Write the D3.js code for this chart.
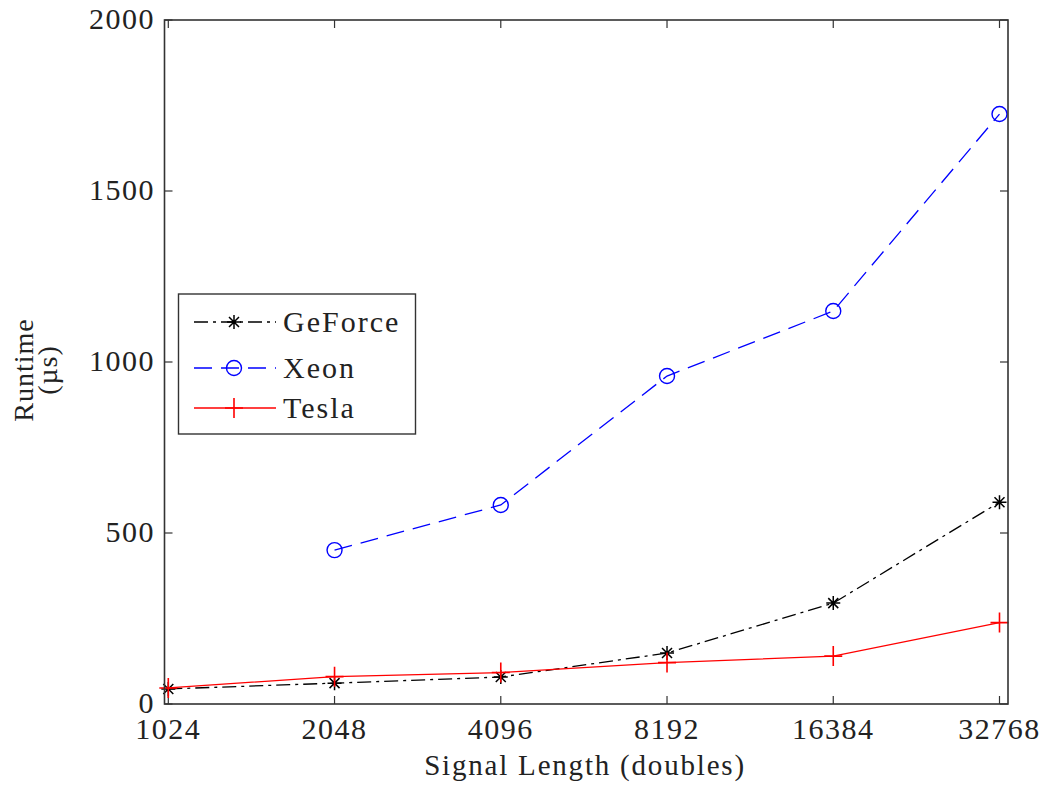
<!DOCTYPE html>
<html>
<head>
<meta charset="utf-8">
<script src="https://cdn.jsdelivr.net/npm/d3@7"></script>
<style>
  body { margin: 0; background: #fff; }
  text { font-family: "Liberation Serif", "Times New Roman", serif; fill: #222; }
</style>
</head>
<body>
<div id="chart"></div>
<script>
// data
const sizes = [1024, 2048, 4096, 8192, 16384, 32768];
const geforce = [44, 61, 79, 149, 295, 590];
const xeonSizes = [2048, 4096, 8192, 16384, 32768];
const xeon = [450, 582, 959, 1149, 1725];
const tesla = [47, 80, 92, 121, 140, 238];
const yTicks = [0, 500, 1000, 1500, 2000];

const W = 1047, H = 788;
const FRAME = { LEFT: 164.5, RIGHT: 1008, TOP: 20, BOTTOM: 704 };

const svg = d3.select("#chart").append("svg")
  .attr("width", W).attr("height", H);

const x = d3.scaleLog().base(2).domain([1024, 32768]).range([168.3, 999.5]);
const y = d3.scaleLinear().domain([0, 2000]).range([FRAME.BOTTOM, FRAME.TOP]);

const series = [
  { name: "GeForce", xs: sizes, ys: geforce, color: "#000", dash: "14,5,3,5", marker: "star" },
  { name: "Xeon", xs: xeonSizes, ys: xeon, color: "#0000ff", dash: "18,9", marker: "circle" },
  { name: "Tesla", xs: sizes, ys: tesla, color: "#ff0000", dash: null, marker: "plus" }
];

function drawMarker(g, type, cx, cy, color) {
  if (type == "circle") {
    g.append("circle").attr("cx", cx).attr("cy", cy).attr("r", 7.5)
      .attr("fill", "none").attr("stroke", color).attr("stroke-width", 1.4);
  } else if (type == "plus") {
    g.append("path")
      .attr("d", `M${cx - 9},${cy}H${cx + 9}M${cx},${cy - 10}V${cy + 10}`)
      .attr("stroke", color).attr("stroke-width", 1.6);
  } else {
    const r = 7, d = 5;
    g.append("path")
      .attr("d", `M${cx - r},${cy}H${cx + r}M${cx},${cy - r}V${cy + r}M${cx - d},${cy - d}L${cx + d},${cy + d}M${cx - d},${cy + d}L${cx + d},${cy - d}`)
      .attr("stroke", color).attr("stroke-width", 1.5);
  }
}

// ticks (inward, mirrored like matlab)
const tk = svg.append("g").attr("stroke", "#333").attr("stroke-width", 1.2);
sizes.forEach((s) => {
  tk.append("line").attr("x1", x(s)).attr("x2", x(s)).attr("y1", FRAME.BOTTOM).attr("y2", FRAME.BOTTOM - 8);
  tk.append("line").attr("x1", x(s)).attr("x2", x(s)).attr("y1", FRAME.TOP).attr("y2", FRAME.TOP + 8);
});
yTicks.forEach((v) => {
  tk.append("line").attr("y1", y(v)).attr("y2", y(v)).attr("x1", FRAME.LEFT).attr("x2", FRAME.LEFT + 8);
  tk.append("line").attr("y1", y(v)).attr("y2", y(v)).attr("x1", FRAME.RIGHT).attr("x2", FRAME.RIGHT - 8);
});

// lines
const line = d3.line().x((d) => x(d[0])).y((d) => y(d[1]));
series.forEach((s) => {
  const pts = s.xs.map((v, i) => [v, s.ys[i]]);
  svg.append("path").datum(pts).attr("d", line)
    .attr("fill", "none").attr("stroke", s.color).attr("stroke-width", 1.3)
    .attr("stroke-dasharray", s.dash);
  const mg = svg.append("g");
  pts.forEach((p) => drawMarker(mg, s.marker, x(p[0]), y(p[1]), s.color));
});

// frame
svg.append("rect")
  .attr("x", FRAME.LEFT).attr("y", FRAME.TOP)
  .attr("width", FRAME.RIGHT - FRAME.LEFT).attr("height", FRAME.BOTTOM - FRAME.TOP)
  .attr("fill", "none").attr("stroke", "#333").attr("stroke-width", 1.6);

// tick labels
svg.append("g").selectAll("text").data(sizes).join("text")
  .attr("x", (d) => x(d)).attr("y", 739)
  .attr("text-anchor", "middle").attr("font-size", 30).attr("letter-spacing", 1.5)
  .text((d) => d);
svg.append("g").selectAll("text").data(yTicks).join("text")
  .attr("x", 155).attr("y", (d) => y(d) + 9)
  .attr("text-anchor", "end").attr("font-size", 30).attr("letter-spacing", 1.5)
  .text((d) => d);

// axis labels
svg.append("text").attr("x", 585).attr("y", 775)
  .attr("text-anchor", "middle").attr("font-size", 29).attr("letter-spacing", 1.8)
  .text("Signal Length (doubles)");
svg.append("text").attr("transform", "translate(33,370) rotate(-90)")
  .attr("text-anchor", "middle").attr("font-size", 28).attr("letter-spacing", 1)
  .text("Runtime");
svg.append("text").attr("transform", "translate(57,370) rotate(-90)")
  .attr("text-anchor", "middle").attr("font-size", 28).attr("letter-spacing", 1)
  .text("(µs)");

// legend
const lg = svg.append("g");
lg.append("rect").attr("x", 178.5).attr("y", 294).attr("width", 237).attr("height", 140)
  .attr("fill", "#fff").attr("stroke", "#333").attr("stroke-width", 1.4);
const legY = [322, 368, 408];
series.forEach((s, i) => {
  lg.append("line").attr("x1", 194).attr("x2", 276).attr("y1", legY[i]).attr("y2", legY[i])
    .attr("stroke", s.color).attr("stroke-width", 1.3).attr("stroke-dasharray", s.dash);
  drawMarker(lg, s.marker, 234, legY[i], s.color);
  lg.append("text").attr("x", 283).attr("y", legY[i] + 10)
    .attr("font-size", 30).attr("letter-spacing", 2).text(s.name);
});
</script>
</body>
</html>
